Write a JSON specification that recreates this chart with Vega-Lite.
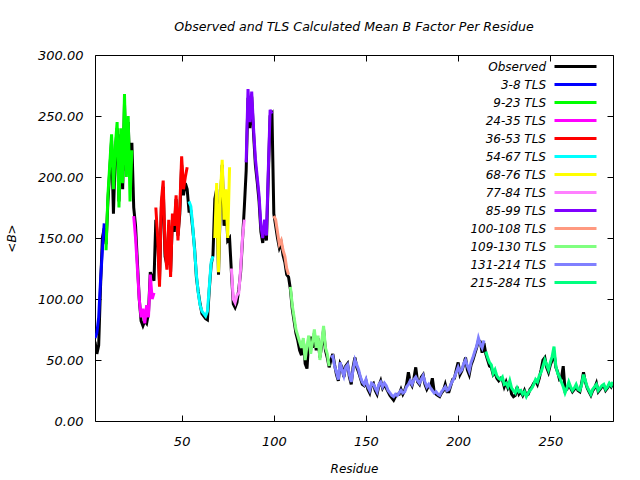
{
"$schema":"https://vega.github.io/schema/vega-lite/v6.json",
"width":518,"height":366,
"autosize":{"type":"none"},
"padding":{"left":95,"top":55,"right":27,"bottom":59},
"background":"white",
"title":{"text":"Observed and TLS Calculated Mean B Factor Per Residue","font":"DejaVu Sans","fontSize":12.6,"fontStyle":"italic","fontWeight":"normal","color":"black","anchor":"middle","offset":15},
"config":{"view":{"stroke":"black","strokeWidth":1},"axis":{"grid":false,"domain":false,"tickColor":"black","tickWidth":1,"labelColor":"black","labelFont":"DejaVu Sans","labelFontSize":13,"labelFontStyle":"italic","titleFont":"DejaVu Sans","titleFontSize":12,"titleFontStyle":"italic","titleFontWeight":"normal","titleColor":"black"}},
"data":{"values":[
{"r":3,"o":65,"t":68,"s":"3-8 TLS"},{"r":4,"o":55,"t":72,"s":"3-8 TLS"},{"r":5,"o":62,"t":85,"s":"3-8 TLS"},{"r":6,"o":110,"t":115,"s":"3-8 TLS"},{"r":7,"o":150,"t":140,"s":"3-8 TLS"},{"r":8,"o":158,"t":162,"s":"3-8 TLS"},
{"r":9,"o":145,"t":140,"s":"9-23 TLS"},{"r":10,"o":180,"t":185,"s":"9-23 TLS"},{"r":11,"o":205,"t":210,"s":"9-23 TLS"},{"r":12,"o":230,"t":235,"s":"9-23 TLS"},{"r":13,"o":170,"t":190,"s":"9-23 TLS"},{"r":14,"o":220,"t":225,"s":"9-23 TLS"},{"r":15,"o":240,"t":245,"s":"9-23 TLS"},{"r":16,"o":180,"t":175,"s":"9-23 TLS"},{"r":17,"o":235,"t":240,"s":"9-23 TLS"},{"r":18,"o":190,"t":195,"s":"9-23 TLS"},{"r":19,"o":260,"t":268,"s":"9-23 TLS"},{"r":20,"o":205,"t":200,"s":"9-23 TLS"},{"r":21,"o":245,"t":250,"s":"9-23 TLS"},{"r":22,"o":200,"t":180,"s":"9-23 TLS"},{"r":23,"o":228,"t":222,"s":"9-23 TLS"},
{"r":24,"o":175,"t":168,"s":"24-35 TLS"},{"r":25,"o":160,"t":150,"s":"24-35 TLS"},{"r":26,"o":130,"t":125,"s":"24-35 TLS"},{"r":27,"o":100,"t":100,"s":"24-35 TLS"},{"r":28,"o":82,"t":85,"s":"24-35 TLS"},{"r":29,"o":78,"t":92,"s":"24-35 TLS"},{"r":30,"o":82,"t":80,"s":"24-35 TLS"},{"r":31,"o":80,"t":95,"s":"24-35 TLS"},{"r":32,"o":88,"t":85,"s":"24-35 TLS"},{"r":33,"o":122,"t":120,"s":"24-35 TLS"},{"r":34,"o":118,"t":100,"s":"24-35 TLS"},{"r":35,"o":115,"t":105,"s":"24-35 TLS"},
{"r":36,"o":165,"t":175,"s":"36-53 TLS"},{"r":37,"o":150,"t":150,"s":"36-53 TLS"},{"r":38,"o":115,"t":110,"s":"36-53 TLS"},{"r":39,"o":175,"t":180,"s":"36-53 TLS"},{"r":40,"o":192,"t":197,"s":"36-53 TLS"},{"r":41,"o":135,"t":140,"s":"36-53 TLS"},{"r":42,"o":128,"t":124,"s":"36-53 TLS"},{"r":43,"o":160,"t":165,"s":"36-53 TLS"},{"r":44,"o":122,"t":118,"s":"36-53 TLS"},{"r":45,"o":165,"t":170,"s":"36-53 TLS"},{"r":46,"o":155,"t":160,"s":"36-53 TLS"},{"r":47,"o":182,"t":185,"s":"36-53 TLS"},{"r":48,"o":152,"t":148,"s":"36-53 TLS"},{"r":49,"o":170,"t":175,"s":"36-53 TLS"},{"r":50,"o":210,"t":217,"s":"36-53 TLS"},{"r":51,"o":185,"t":190,"s":"36-53 TLS"},{"r":52,"o":195,"t":200,"s":"36-53 TLS"},{"r":53,"o":190,"t":208,"s":"36-53 TLS"},
{"r":54,"o":172,"t":180,"s":"54-67 TLS"},{"r":55,"o":172,"t":176,"s":"54-67 TLS"},{"r":56,"o":158,"t":160,"s":"54-67 TLS"},{"r":57,"o":142,"t":140,"s":"54-67 TLS"},{"r":58,"o":118,"t":120,"s":"54-67 TLS"},{"r":59,"o":106,"t":105,"s":"54-67 TLS"},{"r":60,"o":96,"t":95,"s":"54-67 TLS"},{"r":61,"o":88,"t":90,"s":"54-67 TLS"},{"r":62,"o":86,"t":88,"s":"54-67 TLS"},{"r":63,"o":84,"t":86,"s":"54-67 TLS"},{"r":64,"o":83,"t":90,"s":"54-67 TLS"},{"r":65,"o":108,"t":110,"s":"54-67 TLS"},{"r":66,"o":128,"t":130,"s":"54-67 TLS"},{"r":67,"o":136,"t":135,"s":"54-67 TLS"},
{"r":68,"o":182,"t":150,"s":"68-76 TLS"},{"r":69,"o":190,"t":195,"s":"68-76 TLS"},{"r":70,"o":120,"t":122,"s":"68-76 TLS"},{"r":71,"o":180,"t":185,"s":"68-76 TLS"},{"r":72,"o":210,"t":214,"s":"68-76 TLS"},{"r":73,"o":160,"t":165,"s":"68-76 TLS"},{"r":74,"o":185,"t":190,"s":"68-76 TLS"},{"r":75,"o":148,"t":150,"s":"68-76 TLS"},{"r":76,"o":150,"t":208,"s":"68-76 TLS"},
{"r":77,"o":122,"t":125,"s":"77-84 TLS"},{"r":78,"o":96,"t":100,"s":"77-84 TLS"},{"r":79,"o":93,"t":97,"s":"77-84 TLS"},{"r":80,"o":97,"t":103,"s":"77-84 TLS"},{"r":81,"o":108,"t":105,"s":"77-84 TLS"},{"r":82,"o":122,"t":125,"s":"77-84 TLS"},{"r":83,"o":148,"t":150,"s":"77-84 TLS"},{"r":84,"o":175,"t":165,"s":"77-84 TLS"},
{"r":85,"o":205,"t":212,"s":"85-99 TLS"},{"r":86,"o":265,"t":272,"s":"85-99 TLS"},{"r":87,"o":240,"t":245,"s":"85-99 TLS"},{"r":88,"o":266,"t":270,"s":"85-99 TLS"},{"r":89,"o":236,"t":240,"s":"85-99 TLS"},{"r":90,"o":210,"t":215,"s":"85-99 TLS"},{"r":91,"o":196,"t":200,"s":"85-99 TLS"},{"r":92,"o":180,"t":185,"s":"85-99 TLS"},{"r":93,"o":155,"t":160,"s":"85-99 TLS"},{"r":94,"o":146,"t":150,"s":"85-99 TLS"},{"r":95,"o":160,"t":165,"s":"85-99 TLS"},{"r":96,"o":148,"t":152,"s":"85-99 TLS"},{"r":97,"o":200,"t":205,"s":"85-99 TLS"},{"r":98,"o":250,"t":255,"s":"85-99 TLS"},{"r":99,"o":252,"t":252,"s":"85-99 TLS"},
{"r":100,"o":170,"t":168,"s":"100-108 TLS"},{"r":101,"o":160,"t":165,"s":"100-108 TLS"},{"r":102,"o":150,"t":155,"s":"100-108 TLS"},{"r":103,"o":142,"t":145,"s":"100-108 TLS"},{"r":104,"o":146,"t":148,"s":"100-108 TLS"},{"r":105,"o":136,"t":140,"s":"100-108 TLS"},{"r":106,"o":130,"t":135,"s":"100-108 TLS"},{"r":107,"o":120,"t":125,"s":"100-108 TLS"},{"r":108,"o":118,"t":120,"s":"100-108 TLS"},
{"r":109,"o":108,"t":110,"s":"109-130 TLS"},{"r":110,"o":92,"t":95,"s":"109-130 TLS"},{"r":111,"o":82,"t":85,"s":"109-130 TLS"},{"r":112,"o":72,"t":75,"s":"109-130 TLS"},{"r":113,"o":66,"t":70,"s":"109-130 TLS"},{"r":114,"o":58,"t":65,"s":"109-130 TLS"},{"r":115,"o":54,"t":60,"s":"109-130 TLS"},{"r":116,"o":66,"t":68,"s":"109-130 TLS"},{"r":117,"o":47,"t":50,"s":"109-130 TLS"},{"r":118,"o":43,"t":62,"s":"109-130 TLS"},{"r":119,"o":68,"t":70,"s":"109-130 TLS"},{"r":120,"o":68,"t":55,"s":"109-130 TLS"},{"r":121,"o":60,"t":65,"s":"109-130 TLS"},{"r":122,"o":72,"t":75,"s":"109-130 TLS"},{"r":123,"o":58,"t":60,"s":"109-130 TLS"},{"r":124,"o":68,"t":70,"s":"109-130 TLS"},{"r":125,"o":52,"t":50,"s":"109-130 TLS"},{"r":126,"o":62,"t":65,"s":"109-130 TLS"},{"r":127,"o":75,"t":78,"s":"109-130 TLS"},{"r":128,"o":58,"t":60,"s":"109-130 TLS"},{"r":129,"o":52,"t":55,"s":"109-130 TLS"},{"r":130,"o":44,"t":45,"s":"109-130 TLS"},
{"r":131,"o":50,"t":52,"s":"131-214 TLS"},{"r":132,"o":55,"t":53,"s":"131-214 TLS"},{"r":133,"o":46,"t":45,"s":"131-214 TLS"},{"r":134,"o":38,"t":40,"s":"131-214 TLS"},{"r":135,"o":33,"t":34,"s":"131-214 TLS"},{"r":136,"o":47,"t":48,"s":"131-214 TLS"},{"r":137,"o":44,"t":42,"s":"131-214 TLS"},{"r":138,"o":36,"t":37,"s":"131-214 TLS"},{"r":139,"o":45,"t":44,"s":"131-214 TLS"},{"r":140,"o":47,"t":46,"s":"131-214 TLS"},{"r":141,"o":36,"t":38,"s":"131-214 TLS"},{"r":142,"o":30,"t":32,"s":"131-214 TLS"},{"r":143,"o":44,"t":42,"s":"131-214 TLS"},{"r":144,"o":52,"t":50,"s":"131-214 TLS"},{"r":145,"o":44,"t":46,"s":"131-214 TLS"},{"r":146,"o":40,"t":42,"s":"131-214 TLS"},{"r":147,"o":35,"t":36,"s":"131-214 TLS"},{"r":148,"o":30,"t":32,"s":"131-214 TLS"},{"r":149,"o":29,"t":30,"s":"131-214 TLS"},{"r":150,"o":33,"t":34,"s":"131-214 TLS"},{"r":151,"o":26,"t":28,"s":"131-214 TLS"},{"r":152,"o":23,"t":25,"s":"131-214 TLS"},{"r":153,"o":30,"t":31,"s":"131-214 TLS"},{"r":154,"o":31,"t":30,"s":"131-214 TLS"},{"r":155,"o":25,"t":27,"s":"131-214 TLS"},{"r":156,"o":22,"t":24,"s":"131-214 TLS"},{"r":157,"o":29,"t":30,"s":"131-214 TLS"},{"r":158,"o":33,"t":32,"s":"131-214 TLS"},{"r":159,"o":27,"t":28,"s":"131-214 TLS"},{"r":160,"o":30,"t":31,"s":"131-214 TLS"},{"r":161,"o":27,"t":29,"s":"131-214 TLS"},{"r":162,"o":24,"t":25,"s":"131-214 TLS"},{"r":163,"o":21,"t":23,"s":"131-214 TLS"},{"r":164,"o":19,"t":21,"s":"131-214 TLS"},{"r":165,"o":17,"t":20,"s":"131-214 TLS"},{"r":166,"o":20,"t":22,"s":"131-214 TLS"},{"r":167,"o":22,"t":21,"s":"131-214 TLS"},{"r":168,"o":22,"t":23,"s":"131-214 TLS"},{"r":169,"o":26,"t":25,"s":"131-214 TLS"},{"r":170,"o":22,"t":23,"s":"131-214 TLS"},{"r":171,"o":25,"t":24,"s":"131-214 TLS"},{"r":172,"o":30,"t":28,"s":"131-214 TLS"},{"r":173,"o":40,"t":30,"s":"131-214 TLS"},{"r":174,"o":32,"t":33,"s":"131-214 TLS"},{"r":175,"o":29,"t":30,"s":"131-214 TLS"},{"r":176,"o":35,"t":34,"s":"131-214 TLS"},{"r":177,"o":44,"t":36,"s":"131-214 TLS"},{"r":178,"o":32,"t":33,"s":"131-214 TLS"},{"r":179,"o":30,"t":31,"s":"131-214 TLS"},{"r":180,"o":36,"t":34,"s":"131-214 TLS"},{"r":181,"o":38,"t":37,"s":"131-214 TLS"},{"r":182,"o":30,"t":32,"s":"131-214 TLS"},{"r":183,"o":26,"t":28,"s":"131-214 TLS"},{"r":184,"o":29,"t":30,"s":"131-214 TLS"},{"r":185,"o":28,"t":27,"s":"131-214 TLS"},{"r":186,"o":35,"t":25,"s":"131-214 TLS"},{"r":187,"o":24,"t":23,"s":"131-214 TLS"},{"r":188,"o":22,"t":24,"s":"131-214 TLS"},{"r":189,"o":21,"t":22,"s":"131-214 TLS"},{"r":190,"o":20,"t":21,"s":"131-214 TLS"},{"r":191,"o":23,"t":24,"s":"131-214 TLS"},{"r":192,"o":25,"t":26,"s":"131-214 TLS"},{"r":193,"o":30,"t":28,"s":"131-214 TLS"},{"r":194,"o":24,"t":25,"s":"131-214 TLS"},{"r":195,"o":24,"t":26,"s":"131-214 TLS"},{"r":196,"o":29,"t":30,"s":"131-214 TLS"},{"r":197,"o":34,"t":33,"s":"131-214 TLS"},{"r":198,"o":35,"t":36,"s":"131-214 TLS"},{"r":199,"o":42,"t":40,"s":"131-214 TLS"},{"r":200,"o":48,"t":44,"s":"131-214 TLS"},{"r":201,"o":38,"t":40,"s":"131-214 TLS"},{"r":202,"o":41,"t":42,"s":"131-214 TLS"},{"r":203,"o":46,"t":47,"s":"131-214 TLS"},{"r":204,"o":52,"t":50,"s":"131-214 TLS"},{"r":205,"o":42,"t":45,"s":"131-214 TLS"},{"r":206,"o":38,"t":41,"s":"131-214 TLS"},{"r":207,"o":46,"t":48,"s":"131-214 TLS"},{"r":208,"o":50,"t":52,"s":"131-214 TLS"},{"r":209,"o":55,"t":57,"s":"131-214 TLS"},{"r":210,"o":60,"t":61,"s":"131-214 TLS"},{"r":211,"o":66,"t":68,"s":"131-214 TLS"},{"r":212,"o":65,"t":63,"s":"131-214 TLS"},{"r":213,"o":56,"t":60,"s":"131-214 TLS"},{"r":214,"o":64,"t":66,"s":"131-214 TLS"},
{"r":215,"o":55,"t":57,"s":"215-284 TLS"},{"r":216,"o":50,"t":52,"s":"215-284 TLS"},{"r":217,"o":45,"t":48,"s":"215-284 TLS"},{"r":218,"o":44,"t":46,"s":"215-284 TLS"},{"r":219,"o":38,"t":39,"s":"215-284 TLS"},{"r":220,"o":40,"t":42,"s":"215-284 TLS"},{"r":221,"o":35,"t":37,"s":"215-284 TLS"},{"r":222,"o":33,"t":35,"s":"215-284 TLS"},{"r":223,"o":35,"t":34,"s":"215-284 TLS"},{"r":224,"o":34,"t":36,"s":"215-284 TLS"},{"r":225,"o":28,"t":30,"s":"215-284 TLS"},{"r":226,"o":32,"t":31,"s":"215-284 TLS"},{"r":227,"o":27,"t":28,"s":"215-284 TLS"},{"r":228,"o":30,"t":33,"s":"215-284 TLS"},{"r":229,"o":22,"t":27,"s":"215-284 TLS"},{"r":230,"o":20,"t":25,"s":"215-284 TLS"},{"r":231,"o":21,"t":23,"s":"215-284 TLS"},{"r":232,"o":28,"t":27,"s":"215-284 TLS"},{"r":233,"o":22,"t":24,"s":"215-284 TLS"},{"r":234,"o":24,"t":25,"s":"215-284 TLS"},{"r":235,"o":21,"t":22,"s":"215-284 TLS"},{"r":236,"o":25,"t":24,"s":"215-284 TLS"},{"r":237,"o":21,"t":20,"s":"215-284 TLS"},{"r":238,"o":22,"t":23,"s":"215-284 TLS"},{"r":239,"o":26,"t":25,"s":"215-284 TLS"},{"r":240,"o":28,"t":27,"s":"215-284 TLS"},{"r":241,"o":31,"t":30,"s":"215-284 TLS"},{"r":242,"o":33,"t":34,"s":"215-284 TLS"},{"r":243,"o":30,"t":32,"s":"215-284 TLS"},{"r":244,"o":35,"t":37,"s":"215-284 TLS"},{"r":245,"o":42,"t":40,"s":"215-284 TLS"},{"r":246,"o":50,"t":45,"s":"215-284 TLS"},{"r":247,"o":52,"t":50,"s":"215-284 TLS"},{"r":248,"o":44,"t":46,"s":"215-284 TLS"},{"r":249,"o":40,"t":42,"s":"215-284 TLS"},{"r":250,"o":46,"t":48,"s":"215-284 TLS"},{"r":251,"o":50,"t":53,"s":"215-284 TLS"},{"r":252,"o":56,"t":61,"s":"215-284 TLS"},{"r":253,"o":44,"t":45,"s":"215-284 TLS"},{"r":254,"o":40,"t":39,"s":"215-284 TLS"},{"r":255,"o":34,"t":36,"s":"215-284 TLS"},{"r":256,"o":35,"t":32,"s":"215-284 TLS"},{"r":257,"o":45,"t":28,"s":"215-284 TLS"},{"r":258,"o":25,"t":23,"s":"215-284 TLS"},{"r":259,"o":26,"t":27,"s":"215-284 TLS"},{"r":260,"o":30,"t":32,"s":"215-284 TLS"},{"r":261,"o":27,"t":28,"s":"215-284 TLS"},{"r":262,"o":24,"t":25,"s":"215-284 TLS"},{"r":263,"o":26,"t":27,"s":"215-284 TLS"},{"r":264,"o":28,"t":30,"s":"215-284 TLS"},{"r":265,"o":25,"t":26,"s":"215-284 TLS"},{"r":266,"o":24,"t":25,"s":"215-284 TLS"},{"r":267,"o":31,"t":30,"s":"215-284 TLS"},{"r":268,"o":40,"t":38,"s":"215-284 TLS"},{"r":269,"o":32,"t":33,"s":"215-284 TLS"},{"r":270,"o":27,"t":28,"s":"215-284 TLS"},{"r":271,"o":24,"t":25,"s":"215-284 TLS"},{"r":272,"o":21,"t":22,"s":"215-284 TLS"},{"r":273,"o":25,"t":26,"s":"215-284 TLS"},{"r":274,"o":27,"t":28,"s":"215-284 TLS"},{"r":275,"o":31,"t":30,"s":"215-284 TLS"},{"r":276,"o":24,"t":25,"s":"215-284 TLS"},{"r":277,"o":26,"t":27,"s":"215-284 TLS"},{"r":278,"o":28,"t":29,"s":"215-284 TLS"},{"r":279,"o":29,"t":30,"s":"215-284 TLS"},{"r":280,"o":25,"t":26,"s":"215-284 TLS"},{"r":281,"o":27,"t":28,"s":"215-284 TLS"},{"r":282,"o":30,"t":31,"s":"215-284 TLS"},{"r":283,"o":28,"t":29,"s":"215-284 TLS"},{"r":284,"o":31,"t":32,"s":"215-284 TLS"}
]},
"resolve":{"axis":{"x":"independent","y":"independent"}},
"layer":[
{"mark":{"type":"line","strokeWidth":3,"clip":true},
 "encoding":{
  "x":{"field":"r","type":"quantitative","scale":{"domain":[3,284],"nice":false,"zero":false},"axis":{"orient":"bottom","values":[50,100,150,200,250],"tickSize":-6,"labelPadding":20,"labelFlush":false,"title":"Residue","titlePadding":15}},
  "y":{"field":"o","type":"quantitative","scale":{"domain":[0,300],"nice":false},"axis":{"orient":"left","values":[0,50,100,150,200,250,300],"format":".2f","tickSize":-6,"labelPadding":18,"title":"<B>","titlePadding":19}},
  "color":{"datum":"Observed","type":"nominal","scale":{"domain":["Observed","3-8 TLS","9-23 TLS","24-35 TLS","36-53 TLS","54-67 TLS","68-76 TLS","77-84 TLS","85-99 TLS","100-108 TLS","109-130 TLS","131-214 TLS","215-284 TLS"],"range":["#000000","#0000ff","#00ff00","#ff00ff","#ff0000","#00ffff","#ffff00","#ff80ff","#8000ff","#ff9980","#80ff80","#8080ff","#00ff80"]},
   "legend":{"orient":"none","legendX":472,"legendY":3,"title":null,"padding":0,"symbolType":"M-3,0H3","symbolSize":196,"symbolStrokeWidth":3,"labelAlign":"right","labelOffset":-38,"labelFont":"DejaVu Sans","labelFontSize":12,"labelFontStyle":"italic","labelColor":"black","rowPadding":3,"labelLimit":200}}
 }},
{"mark":{"type":"line","strokeWidth":3,"clip":true},
 "encoding":{
  "x":{"field":"r","type":"quantitative","scale":{"domain":[3,284],"nice":false,"zero":false},"axis":{"orient":"top","values":[50,100,150,200,250],"tickSize":-6,"labels":false,"title":null}},
  "y":{"field":"t","type":"quantitative","scale":{"domain":[0,300],"nice":false},"axis":{"orient":"right","values":[0,50,100,150,200,250,300],"tickSize":-6,"labels":false,"title":null}},
  "color":{"field":"s","type":"nominal","legend":{"orient":"none","legendX":472,"legendY":3,"title":null,"padding":0,"symbolType":"M-3,0H3","symbolSize":196,"symbolStrokeWidth":3,"labelAlign":"right","labelOffset":-38,"labelFont":"DejaVu Sans","labelFontSize":12,"labelFontStyle":"italic","labelColor":"black","rowPadding":3,"labelLimit":200}}
 }}
]
}
